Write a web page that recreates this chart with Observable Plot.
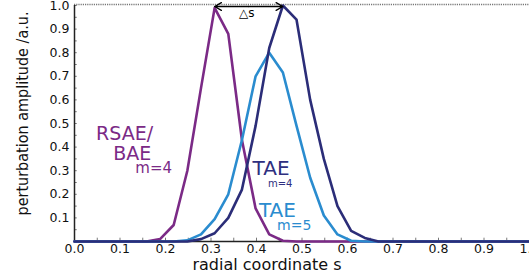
<!DOCTYPE html>
<html>
<head>
<meta charset="utf-8">
<script src="https://cdn.jsdelivr.net/npm/d3@7"></script>
<script src="https://cdn.jsdelivr.net/npm/@observablehq/plot@0.6"></script>
<style>
  html, body { margin: 0; padding: 0; background: #fff; }
  #chart svg { display: block; }
</style>
</head>
<body>
<div id="chart"></div>
<script>
// radial coordinate grid
const s = [0, 0.158, 0.188, 0.218, 0.248, 0.278, 0.308, 0.338, 0.368, 0.398, 0.428, 0.458, 0.488, 0.518, 0.548, 0.578, 0.608, 0.638, 0.668, 1.0];
// RSAE/BAE m=4
const rsae4 = [0, 0, 0.01, 0.07, 0.30, 0.65, 0.99, 0.88, 0.43, 0.14, 0.03, 0.003, 0, 0, 0, 0, 0, 0, 0, 0];
// TAE m=4
const tae4 = [0, 0, 0, 0, 0, 0.01, 0.035, 0.10, 0.22, 0.49, 0.82, 1.0, 0.94, 0.60, 0.35, 0.15, 0.045, 0.015, 0, 0];
// TAE m=5
const tae5 = [0, 0, 0, 0, 0.005, 0.03, 0.095, 0.20, 0.43, 0.70, 0.80, 0.716, 0.49, 0.27, 0.11, 0.03, 0.003, 0, 0, 0];

const xTicks = [0, 0.1, 0.2, 0.3, 0.4, 0.5, 0.6, 0.7, 0.8, 0.9, 1.0];
const yTicks = [0.1, 0.2, 0.3, 0.4, 0.5, 0.6, 0.7, 0.8, 0.9, 1.0];
const minorTicks = d3.range(0, 21).map(i => i * 0.05);

const purple = "#7b2a86";
const navy = "#2b2d78";
const blue = "#2a8ccf";

const toRows = (vals, name) => s.map((x, i) => ({s: x, v: vals[i], name}));
const rowsR = toRows(rsae4, "RSAE");
const rowsT4 = toRows(tae4, "TAE4");
const rowsT5 = toRows(tae5, "TAE5");

const peakR = rowsR.reduce((a, b) => (b.v > a.v ? b : a));
const peakT = rowsT4.reduce((a, b) => (b.v > a.v ? b : a));
const midS = (peakR.s + peakT.s) / 2;

const font = "DejaVu Sans, Verdana, sans-serif";

const chart = Plot.plot({
  width: 529,
  height: 275,
  marginLeft: 74,
  marginRight: 0,
  marginTop: 5,
  marginBottom: 34,
  style: {fontFamily: font, background: "#fff"},
  x: {domain: [0, 1]},
  y: {domain: [0, 1]},
  marks: [
    // top dotted frame
    Plot.ruleY([1], {stroke: "#777", strokeDasharray: "1.2,1", strokeWidth: 1.5, dy: -1}),
    // minor ticks (inward)
    Plot.ruleX(minorTicks, {x: d => d, y1: 0, y2: 0.014, stroke: "#555", strokeWidth: 0.8}),
    Plot.ruleY(minorTicks.filter(d => d > 0), {y: d => d, x1: 0, x2: 0.006, stroke: "#555", strokeWidth: 0.8}),
    Plot.axisX({ticks: xTicks, tickSize: 0, tickPadding: 3, tickFormat: d3.format(".1f"), fontSize: 12.5, fill: "#111", label: null}),
    Plot.axisY({
      ticks: yTicks, tickSize: 0, tickPadding: 5, tickFormat: d3.format(".1f"), fontSize: 12.5, fill: "#111",
      label: "perturbation amplitude /a.u.", labelAnchor: "center", labelArrow: false, labelOffset: 58
    }),
    Plot.ruleX([0], {stroke: "#222", strokeWidth: 1.5}),
    Plot.ruleY([0], {stroke: "#222", strokeWidth: 1.5}),
    // curves
    Plot.line(rowsR, {x: "s", y: "v", stroke: purple, strokeWidth: 2.6}),
    Plot.line(rowsT5, {x: "s", y: "v", stroke: blue, strokeWidth: 2.6}),
    Plot.line(rowsT4, {x: "s", y: "v", stroke: navy, strokeWidth: 2.6}),
    // delta s arrow
    Plot.arrow([{a: midS, b: peakR.s}, {a: midS, b: peakT.s}], {
      x1: "a", x2: "b", y1: 1, y2: 1, dy: 1, stroke: "#000", strokeWidth: 1.3, headLength: 9, bend: 0
    }),
    Plot.text(["△s"], {x: midS, y: 1, dy: 8, dx: -2, fontSize: 12, fill: "#000"}),
    // labels
    Plot.text(["RSAE/"], {x: 0.11, y: 0.455, text: d => d, fontSize: 19, fill: purple}),
    Plot.text(["BAE"], {x: 0.127, y: 0.37, text: d => d, fontSize: 19, fill: purple}),
    Plot.text(["m=4"], {x: 0.174, y: 0.31, text: d => d, fontSize: 15, fill: purple}),
    Plot.text(["TAE"], {x: 0.432, y: 0.31, text: d => d, fontSize: 20, fill: "#2e2f80"}),
    Plot.text(["m=4"], {x: 0.452, y: 0.245, text: d => d, fontSize: 10, fill: "#2e2f80"}),
    Plot.text(["TAE"], {x: 0.446, y: 0.13, text: d => d, fontSize: 20, fill: blue}),
    Plot.text(["m=5"], {x: 0.483, y: 0.066, text: d => d, fontSize: 14, fill: blue}),
    // x axis title
    Plot.text(["radial coordinate s"], {frameAnchor: "bottom", dx: -35, dy: 28, fontSize: 16, fill: "#111"})
  ]
});
// y-axis title styling (condensed, larger, shifted up as in the reference)
chart.querySelectorAll("g[aria-label='y-axis label']").forEach(g => {
  const prev = g.getAttribute("transform") || "";
  g.setAttribute("transform", ("translate(0,-10) " + prev).trim());
  g.querySelectorAll("text").forEach(t => {
    t.setAttribute("font-size", 16);
    t.setAttribute("font-family", "DejaVu Sans Condensed, DejaVu Sans, sans-serif");
    t.setAttribute("fill", "#111");
  });
});
document.getElementById("chart").appendChild(chart);
</script>
</body>
</html>
